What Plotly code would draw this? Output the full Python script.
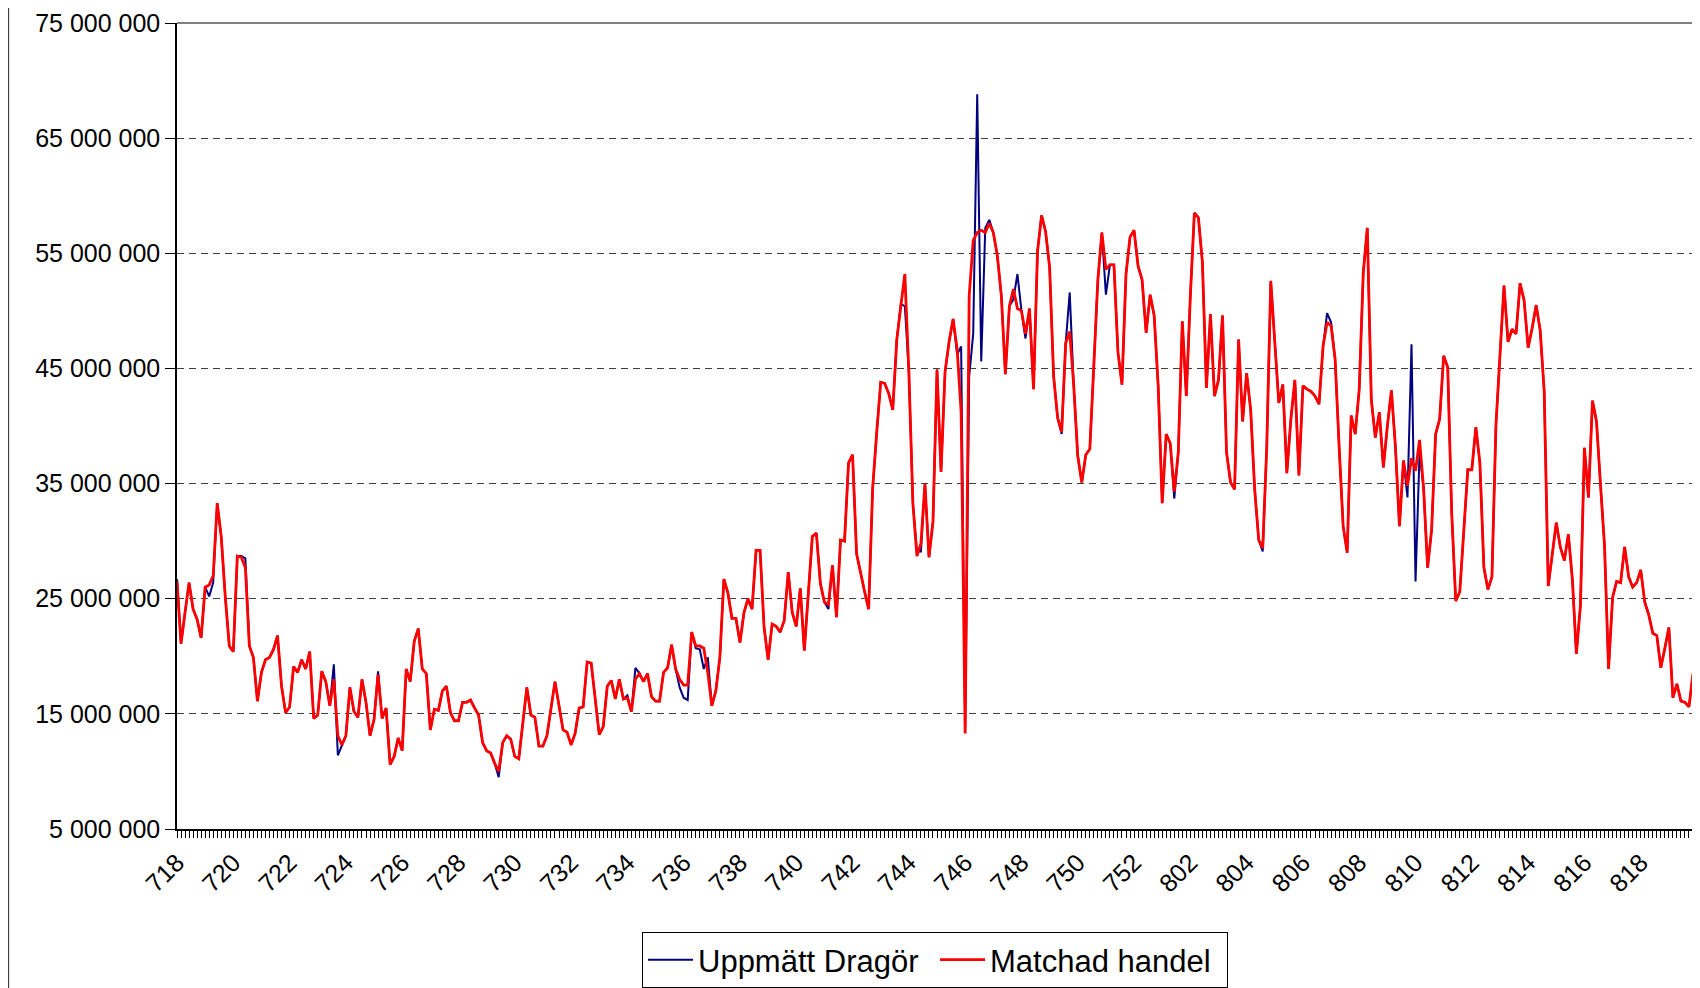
import plotly.graph_objects as go

# Week labels (yyww), one label every 14 days
week_labels = ["718", "720", "722", "724", "726", "728", "730", "732", "734", "736",
               "738", "740", "742", "744", "746", "748", "750", "752", "802", "804",
               "806", "808", "810", "812", "814", "816", "818"]

# Daily values in millions
matchad_a = [26.5,21.1,23.8,26.4,24.1,23.2,21.6,26.0,26.2,27.0,33.3,30.4,25.2,20.9,20.4,28.7,28.6,27.7,20.9,19.9,
             16.1,18.6,19.7,19.9,20.6,21.8,17.4,15.1,15.6,19.1,18.6,19.7,18.9,20.4,14.6,14.9,18.7,17.8,15.7,18.0,
             13.1,12.3,13.1,17.3,15.2,14.7,18.0,16.0,13.1,14.5,18.4,14.6,15.5,10.6]
matchad_b = [11.3,12.9,11.8,18.9,17.8,21.3,22.4,18.9,18.5,13.6,15.4,15.3,17.0,17.4,15.1,14.4,14.4,16.0,16.0,16.2,
             15.5,14.9,12.5,11.8,11.6,10.7,10.0,12.5,13.1,12.8,11.3,11.1,14.2,17.3,14.9,14.7,12.2,12.2,13.1,15.4,
             17.8,15.7,13.6,13.4,12.3,13.3,15.5,15.6,19.5,19.4,16.0,13.2,13.9,17.4]
matchad_c = [17.9,16.3,18.0,16.3,16.4,15.2,18.0,18.5,17.8,18.5,16.5,16.1,16.1,18.6,19.0,21.0,18.9,18.0,17.5,17.5,
             22.1,20.9,20.9,20.7,18.6,15.7,17.0,19.9,26.7,25.5,23.3,23.3,21.2,23.8,25.0,24.1,29.2,29.2,22.5,19.7,
             22.8,22.6,22.1,23.1,27.3,23.8,22.6,25.9,20.5,25.5,30.4,30.7]
matchad_d = [26.3,24.7,24.5,27.9,23.4,30.1,30.0,36.8,37.5,28.9,27.1,25.6,24.1,34.6,39.4,43.8,43.7,42.8,41.4,47.5,
             50.4,53.2,44.7,33.3,28.7,29.8,35.0,28.6,31.7,44.9,36.0,44.7,47.3,49.3,46.7,41.2,13.3,51.3,56.1,56.8,
             57.0,56.8,57.6,56.8,54.8,51.3,44.5,50.4,51.9,50.2,50.0,48.0,50.2,43.2,55.2,58.3]
matchad_e = [56.9,53.8,44.3,40.7,39.5,47.2,48.2,43.5,37.4,35.1,37.5,38.0,45.3,52.7,56.8,53.6,54.0,54.0,46.4,43.6,
             53.2,56.4,57.0,53.9,52.7,48.1,51.4,49.6,43.5,33.3,39.3,38.5,34.3,37.7,49.1,42.6,51.3,58.5,58.1,54.2,
             43.3,49.7,42.6,44.0,49.6,37.7,35.1,34.5,47.5,40.4,44.6,41.4,34.5,30.1]
matchad_f = [29.4,38.2,52.6,47.5,42.0,43.6,35.9,40.6,44.0,35.7,43.5,43.2,43.0,42.6,41.9,46.9,49.0,48.7,45.8,38.2,
             31.3,29.0,40.9,39.3,43.2,53.3,57.2,42.3,39.0,41.2,36.4,40.0,43.1,38.2,31.3,37.0,34.8,37.2,36.1,38.8,
             34.6,27.7,31.0,39.3,40.6,46.1,45.1,32.4,24.8,25.6,31.0,36.2,36.2]
matchad_g = [39.9,36.8,27.7,25.8,26.9,40.1,46.3,52.2,47.3,48.4,48.0,52.4,50.9,46.8,48.5,50.5,48.3,43.0,26.1,29.0,
             31.6,29.5,28.3,30.6,26.7,20.2,24.4,38.1,33.8,42.2,40.4,34.9,29.6,18.9,25.1,26.5,26.4,29.5,26.9,26.0,
             26.4,27.5,24.7,23.6,22.0,21.8,19.0,20.7,22.5,16.4,17.6,16.1,16.0,15.6,18.5]

uppmatt_a = [26.7,21.1,23.8,26.4,24.1,23.2,21.6,26.0,25.2,26.4,33.3,30.4,25.2,20.9,20.4,28.7,28.7,28.5,20.9,19.9,
             16.1,18.6,19.7,19.9,20.6,21.8,17.4,15.1,15.6,19.1,18.6,19.7,18.9,20.4,14.6,14.9,18.7,17.8,15.7,19.3,
             11.4,12.2,13.1,17.3,15.2,14.7,18.0,16.0,13.1,14.5,18.7,14.6,15.5,10.6]
uppmatt_b = [11.3,12.9,11.8,18.9,17.8,21.3,22.4,18.9,18.5,13.6,15.4,15.3,17.0,17.4,15.1,14.4,14.4,16.0,16.0,16.2,
             15.5,14.9,12.5,11.8,11.6,10.7,9.5,12.5,13.1,12.8,11.3,11.1,14.2,17.3,14.9,14.7,12.2,12.2,13.1,15.4,
             17.8,15.7,13.6,13.4,12.3,13.3,15.5,15.6,19.5,19.4,16.0,13.2,13.9,17.4]
uppmatt_c = [17.9,16.3,18.0,16.3,16.6,15.2,19.0,18.5,17.8,18.5,16.5,16.1,16.1,18.6,19.0,21.0,18.9,17.3,16.4,16.2,
             22.1,20.7,20.6,18.9,19.9,15.7,17.0,19.9,26.7,25.5,23.3,23.3,21.2,23.8,25.0,24.1,29.2,29.2,22.5,19.7,
             22.8,22.6,22.1,23.1,27.3,23.8,22.6,25.9,20.5,25.5,30.4,30.7]
uppmatt_d = [26.3,24.7,24.1,27.9,23.4,30.1,30.0,36.8,37.5,28.9,27.1,25.6,24.1,34.6,39.4,43.8,43.7,42.8,41.4,47.5,
             50.6,50.4,44.7,33.3,29.1,29.1,35.0,28.6,31.7,44.9,36.0,44.7,47.3,49.3,46.2,46.9,13.8,44.3,48.0,68.8,
             45.6,57.2,57.9,56.8,54.8,51.3,44.5,50.4,51.0,53.2,50.0,47.6,50.2,43.2,55.2,58.3]
uppmatt_e = [56.9,53.8,44.3,40.7,39.3,47.2,51.6,43.5,37.4,35.1,37.5,38.0,45.3,52.7,56.8,51.4,54.0,54.0,46.4,43.6,
             53.2,56.4,57.0,53.9,52.7,48.1,51.4,49.6,43.5,33.3,39.3,38.5,33.7,37.7,49.1,42.6,51.3,58.5,58.1,54.2,
             43.3,49.7,42.6,44.0,49.6,37.7,35.1,34.5,47.5,40.4,44.6,41.4,34.5,30.1]
uppmatt_f = [29.1,38.2,52.6,47.5,42.0,43.6,35.9,40.6,44.0,35.7,43.5,43.2,43.0,42.6,41.9,46.9,49.8,49.0,45.8,38.2,
             31.3,29.0,40.9,39.3,43.2,53.3,57.2,42.3,39.0,41.2,36.4,40.0,43.1,38.2,31.3,37.0,33.8,47.1,26.5,37.7,
             34.6,27.7,31.0,39.3,40.6,46.1,45.1,32.4,24.8,25.6,31.0,36.2,36.2]
uppmatt_g = [39.9,36.8,27.7,25.8,26.9,40.1,46.3,52.2,47.3,48.4,48.0,52.4,50.9,46.8,48.5,50.5,48.3,43.0,26.1,29.0,
             31.6,29.5,28.3,30.6,26.7,20.2,24.4,38.1,33.8,42.2,40.4,34.9,29.6,18.9,25.1,26.5,26.4,29.5,26.9,26.0,
             26.4,27.5,24.7,23.6,22.0,21.8,19.0,20.7,22.5,16.4,17.6,16.1,16.0,15.6,18.5]

matchad = matchad_a + matchad_b + matchad_c + matchad_d + matchad_e + matchad_f + matchad_g
uppmatt = uppmatt_a + uppmatt_b + uppmatt_c + uppmatt_d + uppmatt_e + uppmatt_f + uppmatt_g

days = list(range(len(matchad)))
label_step = 14

fig = go.Figure()
fig.add_trace(go.Scatter(x=days, y=[v * 1e6 for v in uppmatt], mode="lines",
                         name="Uppmätt Dragör", line=dict(color="#000080", width=2)))
fig.add_trace(go.Scatter(x=days, y=[v * 1e6 for v in matchad], mode="lines",
                         name="Matchad handel", line=dict(color="#FF0000", width=2.8)))

# page body has an 8px margin, so the figure is sized/offset to fit the window
fig.update_layout(
    width=1692, height=980,
    margin=dict(l=169, r=7, t=15, b=159),
    paper_bgcolor="white", plot_bgcolor="white",
    font=dict(family="Liberation Sans, Arial, sans-serif", color="black"),
    separators=", ",
    showlegend=True,
    legend=dict(orientation="h", x=0.5, xanchor="center",
                yref="container", y=0.0571, yanchor="top",
                bordercolor="black", borderwidth=1, bgcolor="white",
                font=dict(size=31), itemwidth=45,
                entrywidth=232, entrywidthmode="pixels"),
    xaxis=dict(range=[0, len(matchad) - 1],
               automargin=False,
               tickmode="array",
               tickvals=[label_step * k for k in range(len(week_labels))],
               ticktext=week_labels, tickangle=-45,
               tickfont=dict(size=25),
               ticks="outside", ticklen=7, tickcolor="black",
               minor=dict(tickmode="linear", tick0=0, dtick=1, ticks="outside",
                          ticklen=7, tickcolor="black", showgrid=False),
               showline=True, linecolor="black", linewidth=2,
               showgrid=False, zeroline=False),
    yaxis=dict(range=[5e6, 75e6], tick0=5e6, dtick=10e6, tickformat=",d",
               automargin=False,
               tickfont=dict(size=25),
               ticks="outside", ticklen=10, tickcolor="black",
               showline=True, linecolor="black", linewidth=1.5,
               showgrid=True, gridcolor="#404040", gridwidth=1, griddash="7px,5px",
               zeroline=False),
    shapes=[
        dict(type="line", xref="paper", yref="paper", x0=0, x1=1, y0=1, y1=1,
             line=dict(color="#808080", width=2), layer="above"),
        dict(type="line", xref="paper", yref="paper", x0=1, x1=1, y0=0, y1=1,
             line=dict(color="#808080", width=2), layer="above"),
        dict(type="line", xref="paper", yref="paper", x0=-0.1112, x1=-0.1112, y0=-0.2, y1=1.03,
             line=dict(color="#404040", width=1.5), layer="above"),
    ],
)

fig.write_html("out.html")
